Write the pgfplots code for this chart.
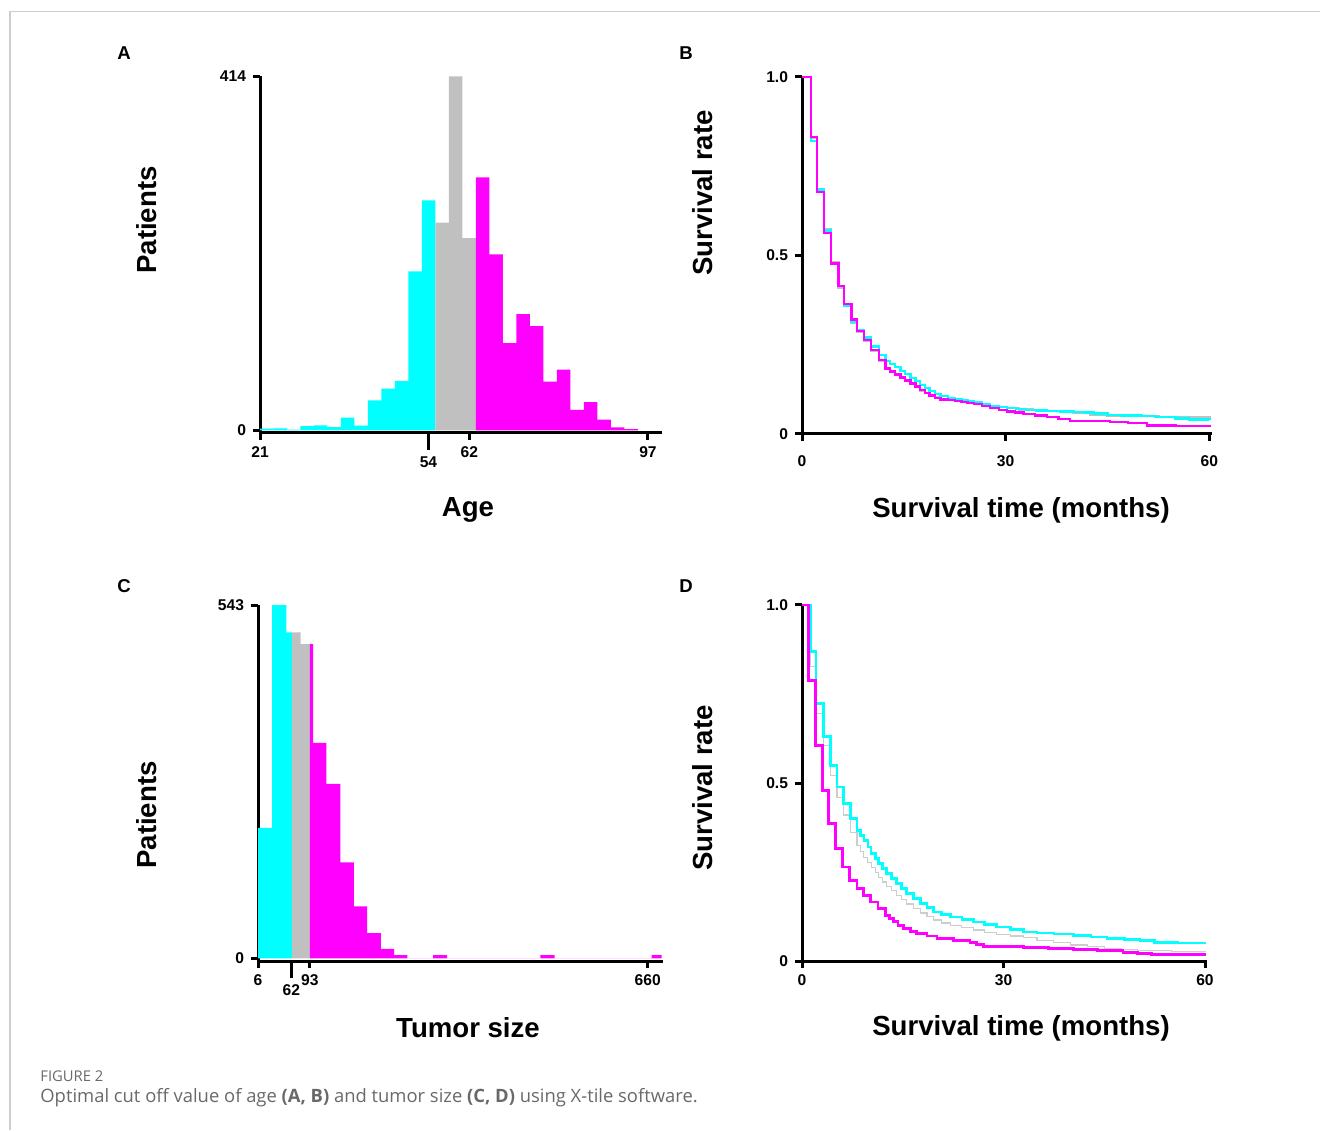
\documentclass[border=0pt]{standalone}
\usepackage{pgfplots}
\pgfplotsset{compat=1.18}
\usepackage{fontspec}
\setmainfont{Liberation Sans}
\newfontfamily\capfont{Open Sans}
\definecolor{xcyan}{RGB}{0,255,255}
\definecolor{xmag}{RGB}{255,0,255}
\definecolor{xgray}{RGB}{192,192,192}
\definecolor{capgray}{RGB}{105,105,105}
\definecolor{framegray}{RGB}{205,205,205}

\pgfplotsset{
  xtile/.style={
    scale only axis,
    anchor=south west,
    axis lines*=left,
    axis line style={line width=1.5pt},
    tick align=outside,
    major tick length=3.5pt,
    tick style={black, line width=1.5pt},
    tick label style={font=\fontsize{7.8}{9}\selectfont\bfseries},
    clip=false,
  },
  hist/.style={ybar interval, draw=none},
}

\begin{document}
\begin{tikzpicture}
\useasboundingbox (0,0) rectangle (660pt,565pt);
\draw[framegray, line width=0.6pt] (5pt,0) -- (5pt,559.3pt) -- (660pt,559.3pt);

% ---- A: age histogram
\begin{axis}[xtile, at={(130pt,348.5pt)}, width=201pt, height=178.3pt,
  xmin=21, xmax=99.75, ymin=-3, ymax=414,
  xtick={21,62,97}, xticklabels={21,62,97},
  extra x ticks={54}, extra x tick labels={54},
  extra x tick style={major tick length=8.5pt},
  ytick={0,414}, yticklabels={0,414}]
\addplot[hist, fill=xcyan] coordinates {(21.00,2) (23.64,2.5) (26.29,1) (28.93,5) (31.57,6) (34.22,4) (36.86,15) (39.50,5.5) (42.14,35) (44.79,49) (47.43,58) (50.07,186) (52.72,269) (55.36,0)};
\addplot[hist, fill=xgray] coordinates {(55.36,243) (58.00,414) (60.65,225) (63.29,0)};
\addplot[hist, fill=xmag] coordinates {(63.29,296) (65.93,206) (68.57,102) (71.22,136) (73.86,122) (76.50,57) (79.15,71) (81.79,24) (84.43,33) (87.08,12.5) (89.72,3.5) (92.36,1.5) (95.00,0)};
\end{axis}

% ---- B: survival by age
\begin{axis}[xtile, at={(401pt,348pt)}, width=205pt, height=178.5pt,
  xmin=0, xmax=60.4, ymin=0, ymax=1,
  xtick={0,30,60}, xticklabels={0,30,60},
  xticklabel style={yshift=-4pt},
  ytick={0,0.5,1}, yticklabels={0,0.5,1.0}]
\addplot[const plot, xgray, line width=1.2pt] coordinates {(0,1) (1.3,0.83) (2.2,0.68) (3.2,0.575) (4.3,0.48) (5.4,0.41) (6.2,0.36) (7.3,0.312) (8.1,0.285) (9.1,0.262) (10.2,0.232) (11.3,0.205) (12.3,0.185) (13.0,0.176) (13.7,0.168) (14.5,0.158) (15.2,0.15) (16.0,0.14) (16.7,0.131) (17.4,0.122) (18.1,0.114) (18.8,0.108) (19.6,0.102) (20.4,0.098) (21.5,0.096) (22.5,0.093) (23.5,0.09) (24.4,0.088) (25.3,0.085) (26.5,0.081) (27.7,0.078) (29,0.075) (30.2,0.072) (32,0.069) (34,0.067) (36,0.064) (38,0.061) (40,0.058) (42.5,0.055) (45,0.052) (47.5,0.051) (50,0.05) (52.5,0.048) (55,0.047) (57.5,0.046) (60,0.045)};
\addplot[const plot, xcyan, line width=1.2pt] coordinates {(0,1) (1.3,0.82) (2.2,0.685) (3.2,0.57) (4.3,0.478) (5.4,0.414) (6.2,0.36) (7.3,0.315) (8.1,0.292) (9.1,0.27) (10.2,0.245) (11.3,0.222) (12.3,0.205) (13.0,0.196) (13.7,0.187) (14.5,0.177) (15.2,0.168) (16.0,0.157) (16.7,0.148) (17.4,0.138) (18.1,0.128) (18.8,0.12) (19.6,0.112) (20.4,0.106) (21.5,0.101) (22.5,0.097) (23.5,0.094) (24.4,0.091) (25.3,0.088) (26.5,0.083) (27.7,0.079) (29,0.075) (30.2,0.072) (31.5,0.07) (33,0.068) (34.5,0.066) (36,0.064) (38,0.063) (40,0.062) (41.5,0.06) (43,0.057) (45,0.054) (47,0.052) (50,0.05) (52,0.047) (55,0.043) (57,0.041) (60,0.04)};
\addplot[const plot, xmag, line width=1.2pt] coordinates {(0,1) (1.3,0.832) (2.2,0.678) (3.2,0.563) (4.3,0.478) (5.4,0.414) (6.2,0.364) (7.3,0.321) (8.1,0.289) (9.1,0.263) (10.2,0.235) (11.3,0.207) (12.3,0.184) (13.0,0.175) (13.7,0.167) (14.5,0.158) (15.2,0.15) (16.0,0.141) (16.7,0.133) (17.4,0.124) (18.1,0.115) (18.8,0.108) (19.6,0.101) (20.4,0.097) (21.5,0.095) (22.5,0.092) (23.5,0.09) (24.4,0.087) (25.3,0.084) (26.5,0.078) (27.7,0.072) (29,0.067) (30.2,0.063) (31.4,0.06) (32.6,0.056) (34.3,0.052) (36.1,0.047) (37.8,0.042) (39.5,0.037) (42,0.036) (45.4,0.033) (48,0.03) (50.8,0.024) (55,0.023) (60,0.022)};
\end{axis}

% ---- C: tumor size histogram
\begin{axis}[xtile, at={(129pt,84.5pt)}, width=202.5pt, height=178pt,
  xmin=6, xmax=685.7, ymin=-4, ymax=543,
  xtick={6,93,660}, xticklabels={6,93,660},
  extra x ticks={62}, extra x tick labels={62},
  extra x tick style={major tick length=8.5pt},
  ytick={0,543}, yticklabels={0,543}]
\addplot[hist, fill=xcyan] coordinates {(6,200.5) (29.5,543) (53.6,501) (63,0)};
\addplot[hist, fill=xgray] coordinates {(63,501) (77.7,483) (93,0)};
\addplot[hist, fill=xmag] coordinates {(93,483) (98.4,331) (120.8,268) (144.3,147.6) (166.7,80) (189.1,39) (212,14.8) (234.4,5) (256.8,0) (300,5) (323.5,0) (480,5) (504,0) (666.7,5) (683.5,0)};
\end{axis}

% ---- D: survival by tumor size
\begin{axis}[xtile, at={(401pt,84.5pt)}, width=202.5pt, height=178pt,
  xmin=0, xmax=60.3, ymin=0, ymax=1,
  xtick={0,30,60}, xticklabels={0,30,60},
  ytick={0,0.5,1}, yticklabels={0,0.5,1.0}]
\addplot[const plot, xgray!80, line width=0.6pt] coordinates {(0,1) (1.3,0.827) (2.1,0.695) (3.2,0.606) (4.2,0.52) (5.2,0.46) (6.2,0.41) (7.2,0.36) (8.2,0.325) (8.7,0.308) (9.2,0.29) (9.8,0.276) (10.3,0.262) (10.9,0.248) (11.4,0.235) (12.0,0.222) (12.6,0.21) (13.3,0.197) (14.1,0.185) (14.8,0.172) (15.6,0.16) (16.6,0.147) (17.6,0.135) (18.6,0.125) (19.6,0.115) (20.8,0.107) (22.1,0.1) (23.8,0.093) (25.5,0.087) (27.2,0.081) (29,0.075) (31,0.07) (33,0.065) (35,0.058) (37.5,0.052) (40,0.045) (42.5,0.04) (45,0.035) (47.5,0.032) (50,0.03) (55,0.027) (60,0.025)};
\addplot[const plot, xcyan, line width=1.3pt] coordinates {(0,1) (1.3,0.869) (2.1,0.724) (3.2,0.63) (4.2,0.55) (5.2,0.489) (6.2,0.442) (7.2,0.4) (8.2,0.367) (8.7,0.353) (9.2,0.339) (9.8,0.32) (10.3,0.302) (10.9,0.288) (11.4,0.274) (12.0,0.26) (12.6,0.246) (13.3,0.232) (14.1,0.217) (14.8,0.203) (15.6,0.189) (16.6,0.175) (17.6,0.161) (18.6,0.15) (19.6,0.138) (20.8,0.131) (22.1,0.124) (23.8,0.117) (25.5,0.11) (27.2,0.103) (29,0.096) (31,0.089) (33,0.082) (35,0.079) (37.5,0.076) (40.4,0.072) (43,0.067) (45.4,0.063) (48,0.06) (50.3,0.058) (52.5,0.052) (56,0.051) (60,0.049)};
\addplot[const plot, xmag, line width=1.4pt] coordinates {(0,1) (1,0.787) (2,0.606) (3,0.48) (4,0.386) (5,0.316) (6,0.264) (7.1,0.227) (8.2,0.203) (9.2,0.185) (10.2,0.166) (11.3,0.147) (12.4,0.128) (13.0,0.119) (13.6,0.11) (14.3,0.1) (15.1,0.091) (16.1,0.084) (17.1,0.077) (18.6,0.07) (20.1,0.063) (22.5,0.058) (25,0.052) (26,0.046) (27,0.041) (30,0.04) (33,0.038) (36.7,0.035) (40.4,0.032) (44,0.029) (47.8,0.025) (50,0.022) (52,0.019) (56,0.018) (60,0.017)};
\end{axis}

% panel letters and axis titles
\begin{scope}[every node/.style={font=\fontsize{9.3}{11}\selectfont\bfseries}]
\node at (62pt,538.5pt) {A};
\node at (343pt,538.5pt) {B};
\node at (62pt,272pt) {C};
\node at (343pt,272pt) {D};
\end{scope}
\begin{scope}[every node/.style={font=\fontsize{13.8}{16}\selectfont\bfseries}]
\node[rotate=90] at (73.5pt,455pt) {Patients};
\node[rotate=90] at (73.5pt,157.5pt) {Patients};
\node[rotate=90] at (351.5pt,468.5pt) {Survival rate};
\node[rotate=90] at (351.5pt,171pt) {Survival rate};
\node at (234pt,310pt) {Age};
\node at (234pt,51pt) {Tumor size};
\node at (510.5pt,310pt) {Survival time (months)};
\node at (510.5pt,51pt) {Survival time (months)};
\end{scope}

% caption
\node[anchor=west, inner sep=0, text=capgray, font=\capfont\fontsize{7.4}{9}\selectfont] at (20pt,27pt) {FIGURE 2};
\node[anchor=west, inner sep=0, text=capgray, font=\capfont\fontsize{9.2}{11}\selectfont] at (20pt,16pt)
  {Optimal cut off value of age \textbf{(A, B)} and tumor size \textbf{(C, D)} using X-tile software.};
\end{tikzpicture}
\end{document}
